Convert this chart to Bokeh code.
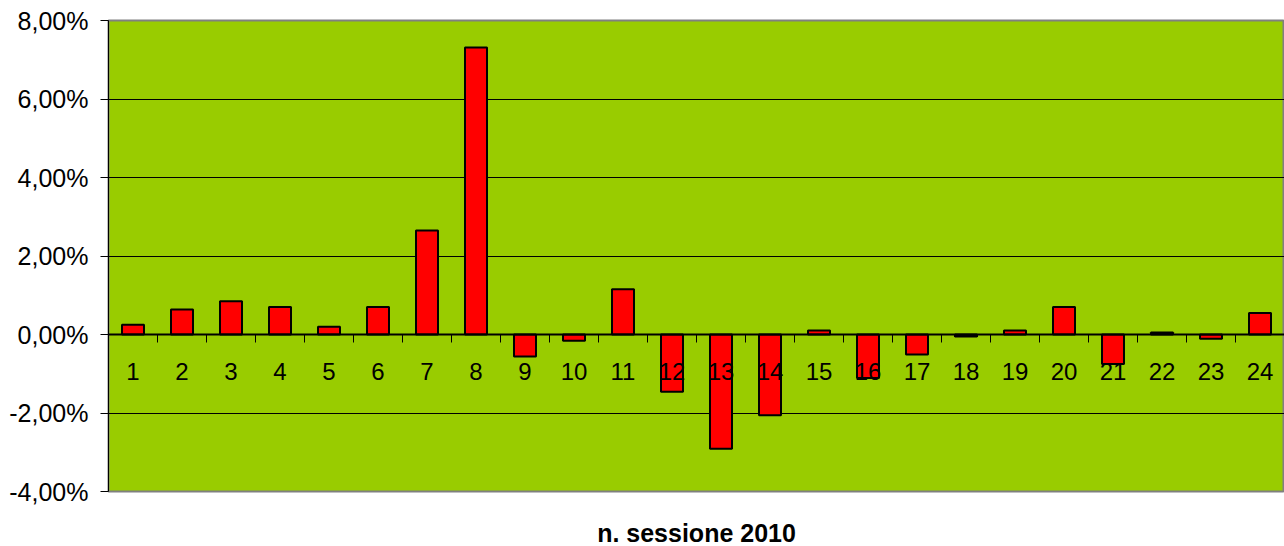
from bokeh.plotting import figure
from bokeh.models import (ColumnDataSource, FixedTicker, CustomJSTickFormatter,
                          Range1d, Title)
from bokeh.embed import file_html
from bokeh.resources import INLINE

sessions = list(range(1, 25))
labels = [str(s) for s in sessions]
values = [0.25, 0.64, 0.85, 0.70, 0.20, 0.70, 2.65, 7.31, -0.56, -0.16, 1.15, -1.46,
          -2.91, -2.06, 0.10, -1.11, -0.51, -0.05, 0.10, 0.70, -0.75, 0.05, -0.11, 0.55]
y_ticks = [-4, -2, 0, 2, 4, 6, 8]

src = ColumnDataSource(dict(x=sessions, top=values))

p = figure(width=1284, height=546, output_backend="svg", toolbar_location=None,
           x_range=Range1d(0.5, 24.5), y_range=Range1d(-4, 8),
           min_border_left=108, min_border_right=0, min_border_top=20,
           min_border_bottom=0)
p.background_fill_color = "#99CC00"
p.border_fill_color = "white"
p.outline_line_color = "#808080"
p.outline_line_width = 2

p.vbar(x="x", top="top", bottom=0, width=0.45, source=src,
       fill_color="#FF0000", line_color="black", line_width=2)

# y axis
p.yaxis.ticker = FixedTicker(ticks=y_ticks)
p.yaxis.formatter = CustomJSTickFormatter(code="return tick.toFixed(2).replace('.', ',') + '%';")
p.yaxis.major_label_text_font = "Liberation Sans"
p.yaxis.major_label_text_font_size = "25px"
p.yaxis.major_label_text_color = "black"
p.yaxis.axis_line_color = "black"
p.yaxis.major_tick_line_color = "black"
p.yaxis.major_tick_out = 8
p.yaxis.major_tick_in = 0
p.yaxis.minor_tick_line_color = None
p.yaxis.major_label_standoff = 12

# grid
p.ygrid.ticker = FixedTicker(ticks=[-2, 2, 4, 6])
p.ygrid.grid_line_color = "black"
p.ygrid.grid_line_width = 1
p.xgrid.grid_line_color = None

# x axis at zero
p.xaxis.fixed_location = 0
p.xaxis.ticker = FixedTicker(ticks=sessions, minor_ticks=[s + 0.5 for s in range(0, 25)])
p.xaxis.major_label_overrides = {s: l for s, l in zip(sessions, labels)}
p.xaxis.major_tick_line_color = None
p.xaxis.minor_tick_line_color = "black"
p.xaxis.minor_tick_out = 8
p.xaxis.minor_tick_in = 0
p.xaxis.axis_line_color = "black"
p.xaxis.axis_line_width = 2
p.xaxis.major_label_text_font = "Liberation Sans"
p.xaxis.major_label_text_font_size = "24px"
p.xaxis.major_label_text_color = "black"
p.xaxis.major_label_standoff = 20

p.add_layout(Title(text=" ", text_font_size="21px", standoff=0), "below")
p.add_layout(Title(text="n. sessione 2010", align="center", text_font="Liberation Sans",
                   text_font_size="25px", text_font_style="bold", text_color="black",
                   standoff=0),
             "below")

open("out.html", "w").write(file_html(p, INLINE))
